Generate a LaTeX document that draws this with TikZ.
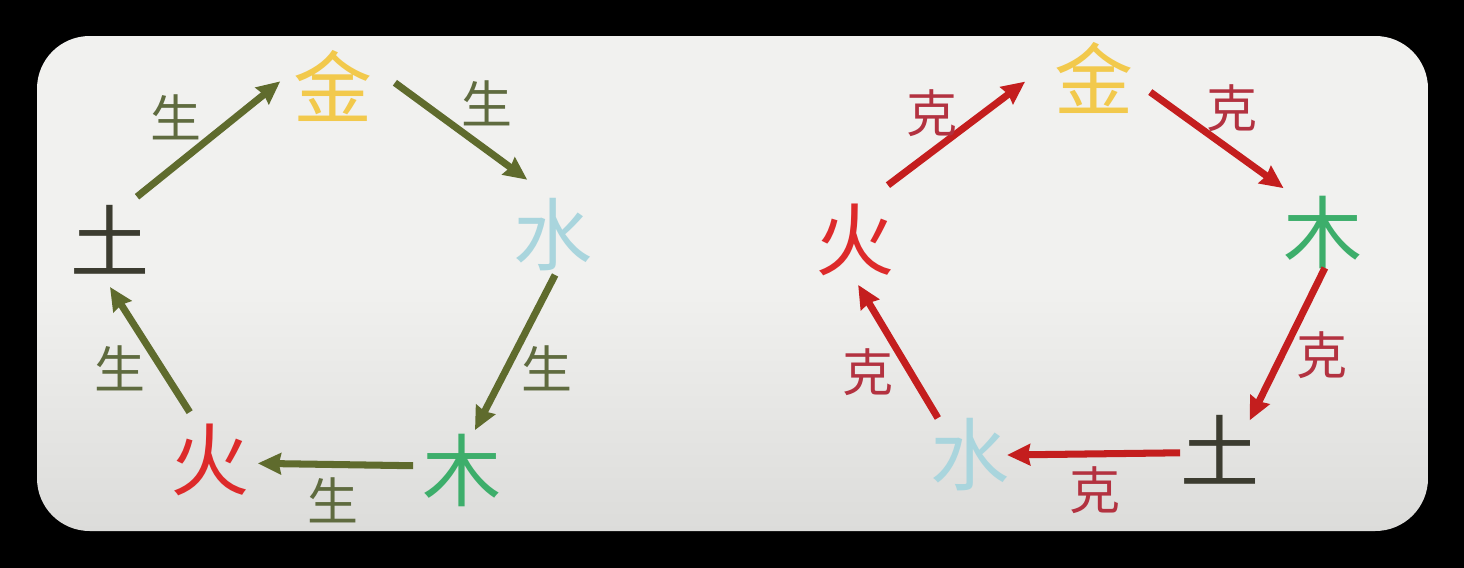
\documentclass[tikz,border=0pt]{standalone}
\usepackage{fontspec}
\newfontfamily\cjk{Noto Sans CJK SC}
\usetikzlibrary{calc,arrows.meta}

\definecolor{jincol}{HTML}{F2C94C}
\definecolor{shuicol}{HTML}{A9D5DD}
\definecolor{mucol}{HTML}{3DAE6B}
\definecolor{huocol}{HTML}{DD2A2A}
\definecolor{tucol}{HTML}{3C3C30}
\definecolor{shengline}{HTML}{5F6B2D}
\definecolor{shengtext}{HTML}{5F6B3F}
\definecolor{keline}{HTML}{C41E1E}
\definecolor{ketext}{HTML}{B33240}
\definecolor{bgtop}{HTML}{F1F1EF}
\definecolor{bgbot}{HTML}{DCDCDA}

\tikzset{
  elem/.style={font=\cjk\fontsize{45}{50}\selectfont, inner sep=0pt},
  rel/.style={font=\cjk\fontsize{29}{32}\selectfont, inner sep=0pt},
  sheng/.style={line width=4pt, draw=shengline,
    -{Stealth[length=0.46cm,width=0.42cm,inset=0.04cm]}},
  ke/.style={line width=4pt, draw=keline,
    -{Stealth[length=0.46cm,width=0.42cm,inset=0.04cm]}},
}

\begin{document}
\begin{tikzpicture}[x=0.02cm,y=0.02cm]
        % frame
        \fill[black] (0,0) rectangle (1464,-568);
        \shade[top color=bgtop, bottom color=bgbot, middle color=bgtop,
               rounded corners=30] (37,-36) rectangle (1428,-531);

        % generating cycle
        \node[elem, text=jincol] (jinA) at (333,-86) {金};
        \node[elem, text=shuicol] (shuiA) at (553,-235) {水};
        \node[elem, text=mucol] (muA) at (462,-470) {木};
        \node[elem, text=huocol] (huoA) at (210,-460) {火};
        \node[elem, text=tucol] (tuA) at (110,-240) {土};

        \draw[sheng] ($(tuA)+(58:51)$) -- ($(jinA)+(175:53)$);
        \draw[sheng] ($(jinA)+(3:62)$) -- ($(shuiA)+(115:61)$);
        \draw[sheng] ($(shuiA)+(-87:40)$) -- ($(muA)+(72:42)$);
        \draw[sheng] ($(muA)+(175:49)$) -- ($(huoA)+(-4:48)$);
        \draw[sheng] ($(huoA)+(113:52)$) -- ($(tuA)+(-90:47)$);

        \node[rel, text=shengtext] (s1) at (176,-117) {生};
        \node[rel, text=shengtext] (s2) at (487,-103) {生};
        \node[rel, text=shengtext] (s3) at (547,-368) {生};
        \node[rel, text=shengtext] (s4) at (333,-500) {生};
        \node[rel, text=shengtext] (s5) at (120,-368) {生};

        % restraining cycle
        \node[elem, text=jincol] (jinB) at (1094,-78) {金};
        \node[elem, text=mucol] (muB) at (1323,-232) {木};
        \node[elem, text=tucol] (tuB) at (1220,-450) {土};
        \node[elem, text=shuicol] (shuiB) at (970,-455) {水};
        \node[elem, text=huocol] (huoB) at (855,-240) {火};

        \draw[ke] ($(huoB)+(59:64)$) -- ($(jinB)+(183:69)$);
        \draw[ke] ($(jinB)+(-14:58)$) -- ($(muB)+(132:59)$);
        \draw[ke] ($(muB)+(-87:36)$) -- ($(tuB)+(45:42)$);
        \draw[ke] ($(tuB)+(184:40)$) -- ($(shuiB)+(0:37)$);
        \draw[ke] ($(shuiB)+(131:49)$) -- ($(huoB)+(-86:45)$);

        \node[rel, text=ketext] (k1) at (932,-113) {克};
        \node[rel, text=ketext] (k2) at (1232,-108) {克};
        \node[rel, text=ketext] (k3) at (1322,-355) {克};
        \node[rel, text=ketext] (k4) at (1095,-490) {克};
        \node[rel, text=ketext] (k5) at (868,-372) {克};
\end{tikzpicture}
\end{document}
